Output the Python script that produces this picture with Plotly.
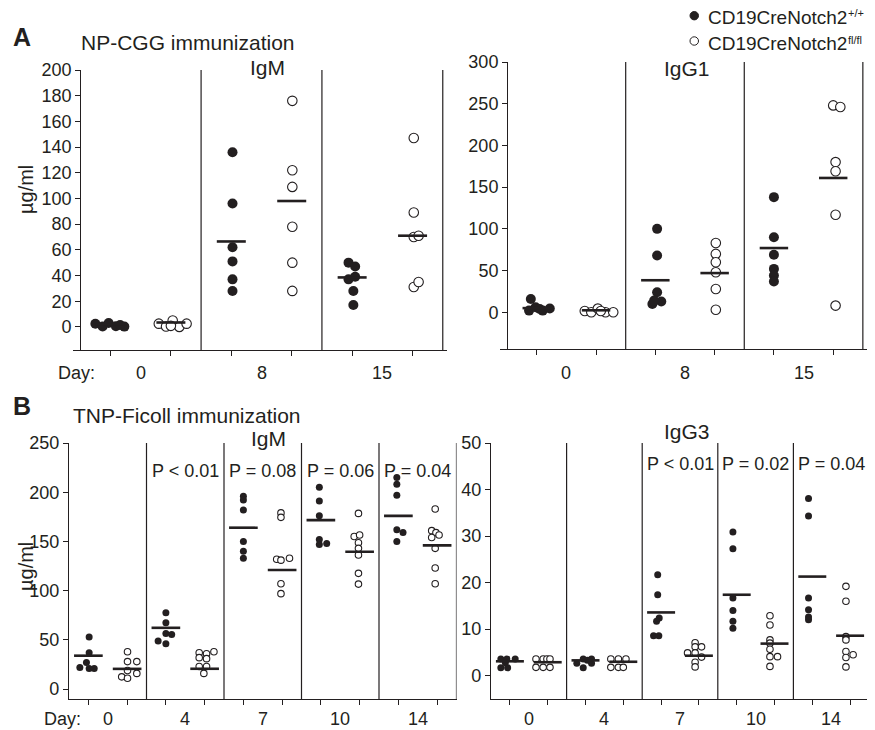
import plotly.graph_objects as go

W, H = 875, 730
OFF = 8  # the page shows the figure 8 px in from the top-left corner
INK = "#231f20"
FONT = "Liberation Sans, Arial, sans-serif"


def px(x):
    return (x - OFF) / W


def py(y):
    return 1 - (y - OFF) / H


# ------------------------------------------------------------------ data
np_days = ["0", "8", "15"]
tnp_days = ["0", "4", "7", "10", "14"]
legend_names = ["CD19CreNotch2", "CD19CreNotch2"]
legend_sups = ["+/+", "fl/fl"]

# NP-CGG immunization, IgM (µg/ml)
np_igm_wt = [[2.5, 0.3, 3, 0.5, 0.2, 1.5], [136, 96, 62, 51, 37, 28], [50, 47, 37, 39, 28, 17]]
np_igm_ko = [[2.5, 0.3, 5, 0, 2.5, 0.8], [176, 122, 109, 78, 50, 28], [147, 89, 70, 71, 31, 35]]
np_igm_wt_mean = [2, 66.5, 38.5]
np_igm_ko_mean = [3.4, 98, 71]
np_igm_wt_jit = [[-0.25, -0.13, -0.03, 0.09, 0.23, 0.16], [0.02] * 6, [-0.06, 0.05, -0.06, 0.05, 0.02, 0.02]]
np_igm_ko_jit = [[-0.2, -0.08, 0.03, 0.14, 0.26, 0.0], [0.01] * 6, [0.02, 0.02, 0.02, 0.1, 0.02, 0.1]]

# NP-CGG immunization, IgG1 (µg/ml)
np_igg1_wt = [[16, 2, 6, 2, 4.5, 4], [100, 68, 24, 10, 13, 14], [138, 90, 69, 52, 44, 37]]
np_igg1_ko = [[1.6, 0, 4.4, 0, 0, 1.5], [83, 70, 60, 48, 28, 3], [248, 246, 180, 169, 117, 8]]
np_igg1_wt_mean = [5, 38.4, 77]
np_igg1_ko_mean = [2.4, 47, 161]
np_igg1_wt_jit = [[-0.1, -0.13, -0.02, 0.1, 0.22, 0.05], [0.03, 0.03, 0.03, -0.05, 0.1, -0.02], [0.0] * 6]
np_igg1_ko_jit = [[-0.19, -0.08, 0.03, 0.16, 0.29, 0.08], [0.02] * 6, [0.0, 0.12, 0.04, 0.04, 0.04, 0.04]]

# TNP-Ficoll immunization, IgM (µg/ml)
tnp_igm_wt = [[53, 37, 27, 22, 21, 21], [77.5, 67.5, 56.5, 55.5, 49, 46],
              [196, 192, 182, 150, 140, 133], [205, 191, 176, 152, 148, 147],
              [215, 208, 197, 162, 159, 150]]
tnp_igm_ko = [[38, 28, 28, 19, 16, 12.5, 11], [37, 36, 38, 32, 31, 23, 23, 16],
              [179, 174.5, 132, 131, 133, 107, 97], [178.5, 155, 156.5, 148.7, 143, 136.2, 117.6, 106.7],
              [183, 161, 159, 156.5, 154, 143, 123, 107]]
tnp_igm_wt_mean = [34, 62.3, 164, 171.7, 176]
tnp_igm_ko_mean = [20.6, 20.7, 121, 139.5, 146]
tnp_igm_wt_jit = [[0.02, 0.02, -0.05, -0.22, 0.02, 0.15], [0, 0, 0, 0.15, -0.2, 0],
                  [0.0] * 6, [-0.04, -0.04, -0.04, -0.04, 0.15, -0.04],
                  [-0.04, -0.04, -0.04, -0.04, 0.12, -0.04]]
tnp_igm_ko_jit = [[0.01, 0.01, 0.25, 0.01, 0.25, -0.14, 0.01],
                  [-0.14, 0.05, 0.24, -0.14, 0.05, -0.14, 0.05, -0.02],
                  [-0.03, -0.03, -0.14, -0.03, 0.19, -0.03, -0.03],
                  [-0.03, -0.14, 0.0, -0.03, -0.03, -0.03, -0.03, -0.03],
                  [-0.05, -0.14, -0.03, 0.05, -0.14, -0.05, -0.05, -0.05]]
tnp_igm_p = ["", "P < 0.01", "P = 0.08", "P = 0.06", "P = 0.04"]

# TNP-Ficoll immunization, IgG3 (µg/ml)
tnp_igg3_wt = [[3.6, 3.6, 3.6, 1.7, 1.7, 2.8], [2.7, 3.6, 3.6, 1.7, 2.7, 3.3],
               [21.7, 17.4, 12.4, 11.7, 8.6, 8.6], [30.9, 27.3, 16.7, 14.0, 11.7, 10.2],
               [38.1, 34.3, 16.7, 14.2, 12.6, 12.0]]
tnp_igg3_ko = [[3.6, 3.6, 3.6, 3.6, 1.8, 1.8, 1.8], [3.6, 3.6, 3.6, 1.8, 1.8, 1.8],
               [7.1, 6.2, 6.2, 4.9, 4.9, 4.0, 2.9, 1.9], [12.9, 10.9, 7.7, 7.0, 5.7, 4.1, 4.1, 2.0],
               [19.2, 16.0, 8.4, 7.7, 5.2, 4.5, 3.9, 1.9]]
tnp_igg3_wt_mean = [3.1, 3.3, 13.6, 17.4, 21.3]
tnp_igg3_ko_mean = [2.9, 3.0, 4.3, 6.9, 8.6]
tnp_igg3_wt_jit = [[-0.24, -0.08, 0.14, -0.24, -0.06, -0.12], [-0.23, -0.06, 0.16, -0.06, 0.16, 0.05],
                   [-0.09, -0.09, -0.05, -0.12, -0.2, -0.06], [-0.1] * 6, [-0.1] * 6]
tnp_igg3_ko_jit = [[-0.31, -0.12, -0.02, 0.06, -0.31, -0.12, 0.06], [-0.33, -0.13, 0.07, -0.33, -0.13, 0.0],
                   [-0.1, -0.1, 0.07, -0.3, -0.1, 0.07, -0.1, -0.1],
                   [-0.12, -0.12, -0.12, -0.12, -0.12, -0.12, 0.08, -0.12],
                   [-0.11, -0.11, -0.11, -0.11, -0.11, 0.08, -0.11, -0.11]]
tnp_igg3_p = ["", "", "P < 0.01", "P = 0.02", "P = 0.04"]

# ------------------------------------------------------------------ figure
fig = go.Figure()
shapes = []
annotations = []


def text(s, x, y, size=18, xanchor="center", yanchor="middle", xref="paper", angle=0, bold=False):
    if bold:
        s = "<b>" + s + "</b>"
    annotations.append(dict(text=s, x=x, y=y, xref=xref, yref="paper", showarrow=False,
                            xanchor=xanchor, yanchor=yanchor, textangle=angle,
                            font=dict(size=size, color=INK, family=FONT)))


def add_panel(ax, wt, ko, wtj, koj, wtm, kom, ms, half):
    xa, ya = ("x" + ax, "y" + ax) if ax != "1" else ("x", "y")
    for k, (vals, jit, mean, fill) in enumerate([(wt, wtj, wtm, INK), (ko, koj, kom, "white")]):
        xs, ys, lx, ly = [], [], [], []
        for i, grp in enumerate(vals):
            c = 2 * i + 1 + k
            xs += [c + j for j in jit[i]]
            ys += list(grp)
            lx += [c - half, c + half, None]
            ly += [mean[i], mean[i], None]
        fig.add_trace(go.Scatter(x=xs, y=ys, xaxis=xa, yaxis=ya, mode="markers", showlegend=False,
                                 marker=dict(size=ms if k == 0 else ms - 0.5, color=fill,
                                             line=dict(color=INK, width=0 if k == 0 else 1.1))))
        fig.add_trace(go.Scatter(x=lx, y=ly, xaxis=xa, yaxis=ya, mode="lines", showlegend=False,
                                 line=dict(color=INK, width=2.6)))
    n = len(wt)
    for i in range(n):
        shapes.append(dict(type="line", xref=xa, yref=ya + " domain", x0=2 * i + 2.5, x1=2 * i + 2.5,
                           y0=0, y1=1, line=dict(color=INK, width=1.2)))


add_panel("1", np_igm_wt, np_igm_ko, np_igm_wt_jit, np_igm_ko_jit, np_igm_wt_mean, np_igm_ko_mean, 10, 0.24)
add_panel("2", np_igg1_wt, np_igg1_ko, np_igg1_wt_jit, np_igg1_ko_jit, np_igg1_wt_mean, np_igg1_ko_mean, 10, 0.24)
add_panel("3", tnp_igm_wt, tnp_igm_ko, tnp_igm_wt_jit, tnp_igm_ko_jit, tnp_igm_wt_mean, tnp_igm_ko_mean, 7, 0.37)
add_panel("4", tnp_igg3_wt, tnp_igg3_ko, tnp_igg3_wt_jit, tnp_igg3_ko_jit, tnp_igg3_wt_mean, tnp_igg3_ko_mean, 7, 0.37)

axis_common = dict(showline=True, linewidth=1.2, linecolor=INK, ticks="outside", ticklen=5, tickwidth=1.2,
                   tickcolor=INK, showgrid=False, zeroline=False, fixedrange=True, automargin=False,
                   tickfont=dict(size=18, color=INK, family=FONT))

top_range = [0.38, 6.57]
tl_dom = [px(73), px(447)]
tr_dom = [px(500), px(867)]


def ypos(dom, rng):
    return dom[0] + (0.5 - rng[0]) / (rng[1] - rng[0]) * (dom[1] - dom[0])


fig.update_layout(
    template="none",
    width=W, height=H, autosize=False, margin=dict(l=0, r=0, t=0, b=0, pad=0),
    paper_bgcolor="white", plot_bgcolor="white", showlegend=False,
    font=dict(family=FONT, color=INK),
    xaxis=dict(domain=tl_dom, range=top_range, anchor="y", tickvals=list(range(1, 7)),
               showticklabels=False, **axis_common),
    yaxis=dict(domain=[py(350), py(70)], range=[-18, 200], anchor="free", position=ypos(tl_dom, top_range),
               tickvals=list(range(0, 201, 20)), **axis_common),
    xaxis2=dict(domain=tr_dom, range=top_range, anchor="y2", tickvals=list(range(1, 7)),
                showticklabels=False, **axis_common),
    yaxis2=dict(domain=[py(349), py(62)], range=[-44, 300], anchor="free", position=ypos(tr_dom, top_range),
                tickvals=list(range(0, 301, 50)), **axis_common),
    xaxis3=dict(domain=[px(69), px(456.5)], range=[0.5, 10.5], anchor="y3", tickvals=list(range(1, 11)),
                showticklabels=False, **axis_common),
    yaxis3=dict(domain=[py(699), py(443)], range=[-10, 250], anchor="x3",
                tickvals=list(range(0, 251, 50)), **axis_common),
    xaxis4=dict(domain=[px(491), px(869)], range=[0.5, 10.5], anchor="y4", tickvals=list(range(1, 11)),
                showticklabels=False, **axis_common),
    yaxis4=dict(domain=[py(699), py(443)], range=[-5, 50], anchor="x4",
                tickvals=list(range(0, 51, 10)), **axis_common),
)

# group labels under x axes
for i, d in enumerate(np_days):
    text(d, 2 * i + 1.5, py(373), xref="x")
    text(d, 2 * i + 1.5, py(373), xref="x2")
for i, d in enumerate(tnp_days):
    text(d, 2 * i + 1.5, py(719), xref="x3")
    text(d, 2 * i + 1.5, py(719), xref="x4")
text("Day:", px(76), py(373))
text("Day:", px(62), py(719))

# p-values
for i, p in enumerate(tnp_igm_p):
    if p:
        text(p, 2 * i + 1.5, py(471), xref="x3")
for i, p in enumerate(tnp_igg3_p):
    if p:
        text(p, 2 * i + 1.5, py(464), xref="x4")

# titles
text("A", px(11), py(37), size=25, xanchor="left", bold=True)
text("B", px(11), py(406), size=25, xanchor="left", bold=True)
text("NP-CGG immunization", px(79), py(42), size=21, xanchor="left")
text("TNP-Ficoll immunization", px(71), py(415), size=21, xanchor="left")
text("IgM", px(267), py(67), size=21)
text("IgG1", px(687), py(68), size=21)
text("IgM", px(268), py(438), size=21)
text("IgG3", px(687), py(431), size=21)
text("µg/ml", px(26), py(190), size=20, angle=-90)
text("µg/ml", px(26), py(567), size=20, angle=-90)

# legend
for k, (yc, fill) in enumerate([(15.7, INK), (41, "white")]):
    shapes.append(dict(type="circle", xref="paper", yref="paper", x0=px(690), x1=px(698.5),
                       y0=py(yc + 4.2), y1=py(yc - 4.2), fillcolor=fill, line=dict(color=INK, width=1)))
for k, (yc, ys) in enumerate([(17, 13.3), (43.5, 39.8)]):
    text(legend_names[k], px(706), py(yc), size=19, xanchor="left")
    text(legend_sups[k], px(845.5), py(ys), size=11, xanchor="left")

fig.update_layout(shapes=shapes, annotations=annotations)
fig.write_html("out.html")
